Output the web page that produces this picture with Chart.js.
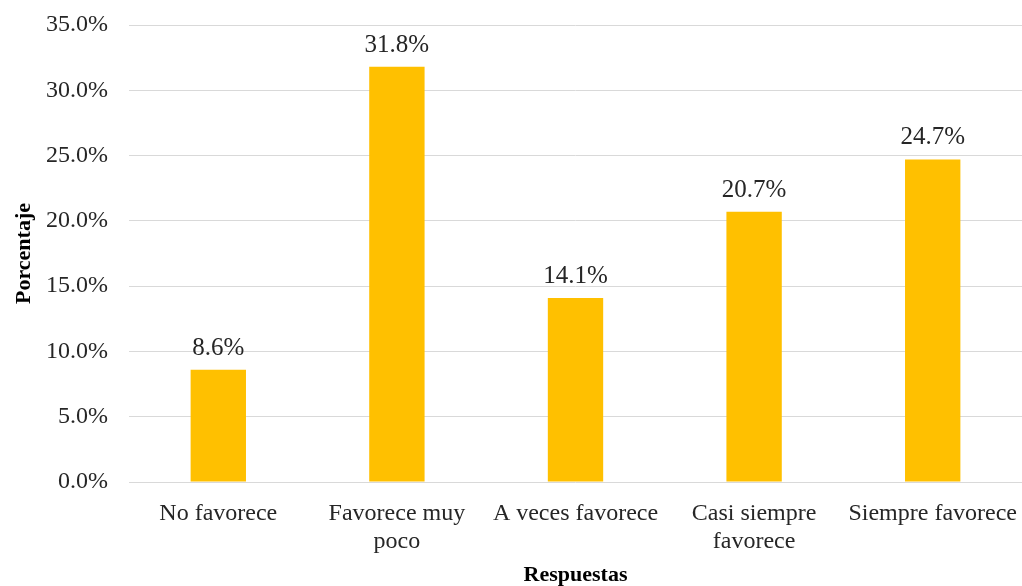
<!DOCTYPE html>
<html>
<head>
<meta charset="utf-8">
<script src="https://cdn.jsdelivr.net/npm/chart.js@4/dist/chart.umd.min.js"></script>
<style>
html,body{margin:0;padding:0;background:#fff;}
#wrap{width:1022px;height:586px;position:relative;}
</style>
</head>
<body>
<div id="wrap"><canvas id="c" width="1022" height="586"></canvas></div>
<script>
const categories = [["No favorece"], ["Favorece muy", "poco"], ["A veces favorece"], ["Casi siempre", "favorece"], ["Siempre favorece"]];
const values = [8.6, 31.8, 14.1, 20.7, 24.7];
const yTicks = [0, 5, 10, 15, 20, 25, 30, 35];

const FONT = "'Liberation Serif', 'Times New Roman', serif";

const labelPlugin = {
  id: 'barLabels',
  afterDatasetsDraw(chart) {
    const ctx = chart.ctx;
    const meta = chart.getDatasetMeta(0);
    ctx.save();
    ctx.font = "25px " + FONT;
    ctx.fillStyle = '#262626';
    ctx.textAlign = 'center';
    ctx.textBaseline = 'alphabetic';
    meta.data.forEach((bar, i) => {
      ctx.fillText(values[i].toFixed(1) + '%', bar.x, bar.y - 15);
    });
    ctx.restore();
  }
};

new Chart(document.getElementById('c'), {
  type: 'bar',
  data: {
    labels: categories,
    datasets: [{
      data: values,
      backgroundColor: '#FFC000',
      borderWidth: 0,
      categoryPercentage: 1,
      barPercentage: 0.31
    }]
  },
  options: {
    responsive: false,
    animation: false,
    devicePixelRatio: 1,
    layout: { padding: { top: 25, right: 0, left: 11, bottom: 0 } },
    plugins: { legend: { display: false }, tooltip: { enabled: false } },
    scales: {
      x: {
        afterFit(axis) { axis.paddingLeft = 0; axis.paddingRight = 0; axis.height = 104; },
        grid: { display: false, drawTicks: false },
        border: { display: false },
        ticks: {
          color: '#262626',
          font: { family: FONT, size: 24, lineHeight: 1.15 },
          padding: 18,
          maxRotation: 0,
          autoSkip: false
        },
        title: {
          display: true,
          text: 'Respuestas',
          color: '#000',
          font: { family: FONT, size: 22, weight: 'bold' },
          padding: { top: 0, bottom: -3 }
        }
      },
      y: {
        min: 0,
        max: 35,
        afterBuildTicks(axis) { axis.ticks = yTicks.map(v => ({ value: v })); },
        afterFit(axis) { axis.paddingTop = 0; axis.paddingBottom = 0; axis.width = 118; },
        grid: { color: '#d9d9d9', lineWidth: 1, drawTicks: false },
        border: { display: false },
        ticks: {
          color: '#262626',
          font: { family: FONT, size: 24 },
          padding: 21,
          callback: v => v.toFixed(1) + '%'
        },
        title: {
          display: true,
          text: 'Porcentaje',
          color: '#000',
          font: { family: FONT, size: 22, weight: 'bold' },
          padding: { top: 0, bottom: 6 }
        }
      }
    }
  },
  plugins: [labelPlugin]
});
</script>
</body>
</html>
